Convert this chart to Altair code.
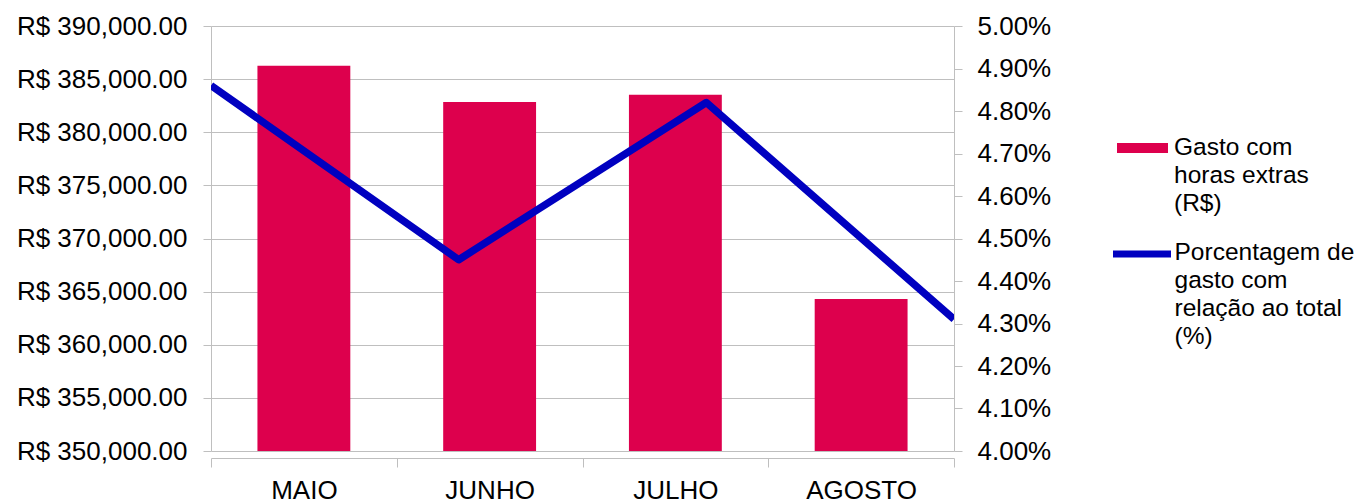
import altair as alt
import pandas as pd

months = ["MAIO", "JUNHO", "JULHO", "AGOSTO"]
gasto = [386250, 382850, 383530, 364300]
pct = [0.0486, 0.0445, 0.0482, 0.0431]
bar_label = "Gasto com|horas extras|(R$)"
line_label = "Porcentagem de|gasto com|relação ao total|(%)"
left_ticks = [350000, 355000, 360000, 365000, 370000, 375000, 380000, 385000, 390000]
right_ticks = [0.040, 0.041, 0.042, 0.043, 0.044, 0.045, 0.046, 0.047, 0.048, 0.049, 0.050]

df = pd.DataFrame({
    "mes": months,
    "gasto": gasto,
    "pct": pct,
    "s_bar": [bar_label] * len(months),
    "s_line": [line_label] * len(months),
})

FONT = "Liberation Sans"
GRID = "#BFBFBF"
RED = "#DD004D"
BLUE = "#0000C0"

bars = alt.Chart(df).mark_bar(clip=True, width=alt.RelativeBandSize(0.5)).encode(
    x=alt.X(
        "mes:N", sort=months, title=None,
        scale=alt.Scale(paddingInner=0, paddingOuter=0),
        axis=alt.Axis(labelAngle=0, labelFontSize=26, labelFont=FONT, labelColor="black",
                      labelPadding=10, tickBand="extent", tickSize=9, tickColor=GRID,
                      domainColor=GRID, offset=7, grid=False),
    ),
    y=alt.Y(
        "gasto:Q", title=None,
        scale=alt.Scale(domain=[350000, 390000], nice=False, zero=False),
        axis=alt.Axis(values=left_ticks, labelExpr="'R$ ' + format(datum.value, ',.2f')",
                      labelFontSize=26, labelFont=FONT, labelColor="black", labelPadding=16,
                      tickSize=8, tickColor=GRID, domainColor=GRID, gridColor=GRID, grid=True),
    ),
    fill=alt.Fill(
        "s_bar:N", scale=alt.Scale(range=[RED]),
        legend=alt.Legend(
            title=None, orient="none", legendX=906, legendY=103, padding=0,
            symbolType="M-1,-0.455H1V-0.063H-1Z", symbolSize=2601, symbolStrokeWidth=0,
            labelFontSize=24.5, labelFont=FONT, labelColor="black", labelLimit=400,
            labelOffset=6, labelExpr="split(datum.label, '|')", labelBaseline="alphabetic",
        ),
    ),
)

line = alt.Chart(df).mark_line(clip=True, strokeWidth=7.5, strokeJoin="round", strokeCap="butt").encode(
    x=alt.X("mes:N", sort=months, title=None,
            scale=alt.Scale(type="point", padding=0), axis=None),
    y=alt.Y(
        "pct:Q", title=None,
        scale=alt.Scale(domain=[0.040, 0.050], nice=False, zero=False),
        axis=alt.Axis(orient="right", values=right_ticks, format=".2%",
                      labelFontSize=26, labelFont=FONT, labelColor="black", labelPadding=15,
                      tickSize=8, tickColor=GRID, domainColor=GRID, grid=False),
    ),
    stroke=alt.Stroke(
        "s_line:N", scale=alt.Scale(range=[BLUE]),
        legend=alt.Legend(
            title=None, orient="none", legendX=898.5, legendY=201, padding=0,
            symbolType="M-1,-0.19H1", symbolSize=3364, symbolStrokeWidth=7,
            labelFontSize=24.5, labelFont=FONT, labelColor="black", labelLimit=400,
            labelOffset=0, labelExpr="split(datum.label, '|')", labelBaseline="alphabetic",
        ),
    ),
)

chart = alt.layer(bars, line).resolve_scale(
    x="independent", y="independent"
).properties(
    width=743, height=425,
    autosize=alt.AutoSizeParams(type="none"),
    padding={"left": 211, "top": 26, "right": 402, "bottom": 49},
    background="white",
).configure(
    style={"guide-label": {"lineHeight": 28}}
).configure_view(stroke=None)

chart.save("out.html", embed_options={"renderer": "svg", "actions": False})
